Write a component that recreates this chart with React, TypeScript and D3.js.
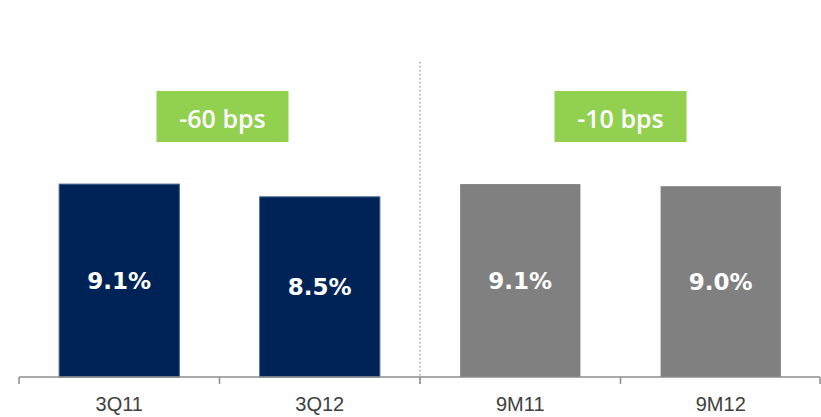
import React from "react";
import * as d3 from "d3";

const categories = ["3Q11", "3Q12", "9M11", "9M12"];
const values = [9.1, 8.5, 9.1, 9.0];
const valueLabels = ["9.1%", "8.5%", "9.1%", "9.0%"];
const groups = ["Q", "Q", "M", "M"];
const changeLabels = ["-60 bps", "-10 bps"];
const changePairs = [
  ["3Q11", "3Q12"],
  ["9M11", "9M12"],
];

const W = 821;
const H = 417;

export default function App() {
  const x = d3.scaleBand<string>().domain(categories).range([19, 821]).paddingInner(0.4).paddingOuter(0.2);
  const step = x.step();
  const y = d3.scaleLinear().domain([0, 10]).range([377, 165]);
  const baseY = y(0);
  const boundaries = d3.range(categories.length + 1).map((i) => 19 + i * step);
  const cellStart = (c: string) => (x(c) as number) - step * 0.2;

  return (
    <svg width={W} height={H} style={{ position: "absolute", left: 0, top: 0 }}>
      <rect width={W} height={H} fill="#ffffff" />
      <line
        x1={cellStart("9M11")}
        x2={cellStart("9M11")}
        y1={62}
        y2={386}
        stroke="#a6a6a6"
        strokeWidth={1.5}
        strokeDasharray="1.5 2.5"
      />
      {categories.map((c, i) => {
        const dark = groups[i] === "Q";
        const bx = x(c) as number;
        const by = y(values[i]);
        return (
          <g key={c}>
            <rect
              x={bx}
              y={by}
              width={x.bandwidth()}
              height={baseY - by}
              fill={dark ? "#002357" : "#808080"}
              stroke={dark ? "#4d6d9a" : "none"}
              strokeWidth={1}
            />
            <text
              x={bx + x.bandwidth() / 2}
              y={(by + baseY) / 2}
              dy="0.36em"
              textAnchor="middle"
              fill="#ffffff"
              fontFamily="DejaVu Sans"
              fontWeight="bold"
              fontSize={23}
            >
              {valueLabels[i]}
            </text>
            <text
              x={bx + x.bandwidth() / 2}
              y={411}
              textAnchor="middle"
              fill="#404040"
              fontFamily="Liberation Sans"
              fontSize={20}
            >
              {c}
            </text>
          </g>
        );
      })}
      <line x1={19} x2={820} y1={baseY} y2={baseY} stroke="#8c8c8c" strokeWidth={1.5} />
      {boundaries.map((b, i) => (
        <line
          key={i}
          x1={Math.min(b, 820)}
          x2={Math.min(b, 820)}
          y1={baseY}
          y2={384}
          stroke="#8c8c8c"
          strokeWidth={1.5}
        />
      ))}
      {changePairs.map((p, i) => {
        const cx = ((x(p[0]) as number) + (x(p[1]) as number) + x.bandwidth()) / 2 + (i === 0 ? 3 : 0);
        return (
          <g key={i}>
            <rect x={cx - 66} y={91} width={132} height={51} fill="#92d050" />
            <text
              x={cx}
              y={128}
              textAnchor="middle"
              fill="#ffffff"
              fontFamily="Open Sans"
              fontWeight={600}
              fontSize={25}
            >
              {changeLabels[i]}
            </text>
          </g>
        );
      })}
    </svg>
  );
}
